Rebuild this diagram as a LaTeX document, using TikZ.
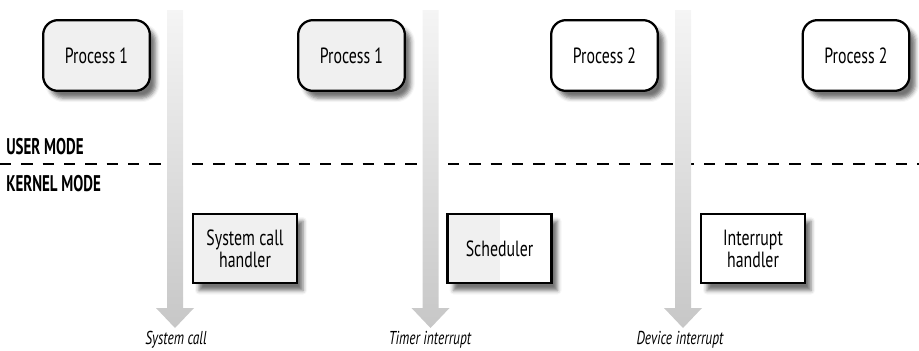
\documentclass[tikz,border=0pt]{standalone}
\usepackage{fontspec}
\setmainfont{PT Sans}[FakeStretch=0.72]
\usetikzlibrary{calc,shadows.blur}
\definecolor{ProcGray}{rgb}{0.94,0.94,0.94}
\definecolor{ArrowTop}{rgb}{0.96,0.96,0.96}
\definecolor{ArrowBottom}{rgb}{0.78,0.78,0.78}

\tikzset{
  boxshadow/.style={blur shadow={shadow xshift=4.5pt, shadow yshift=-5.5pt, shadow blur radius=3pt, shadow opacity=55}},
  procbox/.style={draw=black, line width=1.7pt, rounded corners=11pt, minimum width=80pt, minimum height=53pt, align=center, font=\fontsize{16.5}{18}\selectfont, boxshadow},
  kernbox/.style={draw=black, line width=1.7pt, minimum width=78pt, minimum height=52pt, align=center, font=\fontsize{16.5}{16.5}\selectfont, boxshadow},
  modelabel/.style={anchor=west, inner sep=0pt, font=\bfseries\fontsize{17}{18}\selectfont\addfontfeatures{FakeStretch=0.66}},
  evlabel/.style={inner sep=0pt, font=\itshape\fontsize{14}{15}\selectfont},
  grayarrow/.style={top color=ArrowTop, bottom color=ArrowBottom, draw=none},
  modeline/.style={line width=1.5pt, dash pattern=on 8.5pt off 7.5pt},
}

\begin{document}
\begin{tikzpicture}[x=0.75pt,y=0.75pt,yscale=-1,xscale=1]
\useasboundingbox (0,0) rectangle (919,350);

% Rounded boxes: processes in user mode
\node[procbox, fill=ProcGray] (proc1a) at (96.5,55.5) {Process 1};
\node[procbox, fill=ProcGray] (proc1b) at (351.5,55.5) {Process 1};
\node[procbox, fill=white] (proc2a) at (604.5,55.5) {Process 2};
\node[procbox, fill=white] (proc2b) at (856,55.5) {Process 2};

% Mode labels and boundary
\node[modelabel] (usermode) at (6,147) {USER MODE};
\node[modelabel] (kernelmode) at (6,183.5) {KERNEL MODE};
\coordinate (modeL) at (0,164);
\coordinate (modeR) at (919,164);
\draw[modeline] (modeL) -- (modeR);

% Shaded arrows
\coordinate (systop) at (175,10);
\coordinate (systip) at (175,328);
\path[grayarrow] ($(systop)+(-8,0)$) -- ($(systop)+(8,0)$) -- ($(systip)+(8,-20)$) -- ($(systip)+(19,-20)$) -- (systip) -- ($(systip)+(-19,-20)$) -- ($(systip)+(-8,-20)$) -- cycle;
\coordinate (timtop) at (430.5,10);
\coordinate (timtip) at (430.5,328);
\path[grayarrow] ($(timtop)+(-8,0)$) -- ($(timtop)+(8,0)$) -- ($(timtip)+(8,-20)$) -- ($(timtip)+(19,-20)$) -- (timtip) -- ($(timtip)+(-19,-20)$) -- ($(timtip)+(-8,-20)$) -- cycle;
\coordinate (devtop) at (683,10);
\coordinate (devtip) at (683,328);
\path[grayarrow] ($(devtop)+(-8,0)$) -- ($(devtop)+(8,0)$) -- ($(devtip)+(8,-20)$) -- ($(devtip)+(19,-20)$) -- (devtip) -- ($(devtip)+(-19,-20)$) -- ($(devtip)+(-8,-20)$) -- cycle;

% Text Node
\node[evlabel] (syslbl) at (176,340) {System call};
% Text Node
\node[evlabel] (timlbl) at (430,340) {Timer interrupt};
% Text Node
\node[evlabel] (devlbl) at (680,340) {Device interrupt};

% Kernel boxes
\node[kernbox, fill=ProcGray] (syshandler) at (245,248.5) {System call\\handler};
\node[kernbox, fill=white, path picture={\fill[ProcGray] (path picture bounding box.south west) rectangle (path picture bounding box.north);}] (sched) at (499.5,248.5) {Scheduler};
\node[kernbox, fill=white] (irqhandler) at (753,248.5) {Interrupt\\handler};

\end{tikzpicture}
\end{document}
